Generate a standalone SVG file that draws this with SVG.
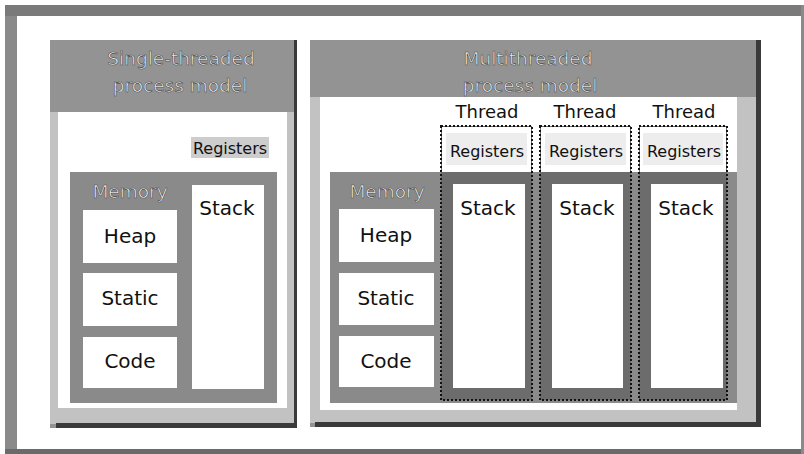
<svg xmlns="http://www.w3.org/2000/svg" width="804" height="454" viewBox="0 0 804 454">
<style>
.lbl{font-family:"DejaVu Sans",sans-serif;fill:#111;text-anchor:middle}
.ttl{font-family:"DejaVu Sans",sans-serif;fill:#f2f2f2;stroke:#4a4a4a;stroke-width:0.6;text-anchor:middle;font-size:18.5px}
.box{fill:#fff}
.mem{fill:#8a8a8a}
.panel{fill:#939393}
.edge{fill:#3a3a3a}
.thr{fill:#6c6c6c;stroke:#111;stroke-width:2;stroke-dasharray:2 2}
</style>
<rect width="804" height="454" fill="#fff"/>
<g id="frame">
<rect x="5" y="5" width="12" height="449" fill="#8a8a8a"/>
<rect x="5" y="5" width="799" height="11" fill="#7a7a7a"/>
<rect x="5" y="449" width="799" height="5" fill="#6a6a6a"/>
<rect x="801" y="5" width="3" height="449" fill="#8a8a8a"/>
</g>
<g id="single">
<rect class="panel" x="50" y="40" width="247" height="388"/>
<rect fill="#c2c2c2" x="50" y="112" width="247" height="312"/>
<rect class="edge" x="56" y="423" width="241" height="5"/>
<rect class="edge" x="294" y="40" width="3" height="388"/>
<rect class="box" x="58" y="112" width="229" height="296"/>
<text class="ttl" x="181" y="65">Single-threaded</text>
<text class="ttl" x="180" y="92">process model</text>
<g id="s-registers">
<rect fill="#cdcdcd" x="191" y="137" width="78" height="21"/>
<text class="lbl" x="230" y="154" font-size="16">Registers</text>
</g>
<g id="s-memory">
<rect class="mem" x="70" y="172" width="207" height="231"/>
<text class="ttl" x="130" y="198">Memory</text>
</g>
<g id="s-heap"><rect class="box" x="83" y="210" width="94" height="53"/><text class="lbl" x="130" y="243" font-size="20">Heap</text></g>
<g id="s-static"><rect class="box" x="83" y="273" width="94" height="53"/><text class="lbl" x="130" y="305" font-size="20">Static</text></g>
<g id="s-code"><rect class="box" x="83" y="337" width="94" height="51"/><text class="lbl" x="130" y="368" font-size="20">Code</text></g>
<g id="s-stack"><rect class="box" x="192" y="185" width="72" height="204"/><text class="lbl" x="227" y="215" font-size="20">Stack</text></g>
</g>
<g id="multi">
<rect class="panel" x="310" y="40" width="451" height="387"/>
<rect fill="#c2c2c2" x="310" y="97" width="451" height="326"/>
<rect class="edge" x="315" y="422" width="446" height="5"/>
<rect class="edge" x="756" y="40" width="5" height="387"/>
<rect class="box" x="320" y="97" width="417" height="313"/>
<text class="ttl" x="528" y="65">Multithreaded</text>
<text class="ttl" x="530" y="92">process model</text>
<g id="m-memory">
<rect class="mem" x="330" y="172" width="407" height="231"/>
<text class="ttl" x="387" y="198">Memory</text>
</g>
<g id="m-heap"><rect class="box" x="339" y="209" width="95" height="53"/><text class="lbl" x="386" y="242" font-size="20">Heap</text></g>
<g id="m-static"><rect class="box" x="339" y="273" width="95" height="52"/><text class="lbl" x="386" y="305" font-size="20">Static</text></g>
<g id="m-code"><rect class="box" x="339" y="336" width="95" height="51"/><text class="lbl" x="386" y="368" font-size="20">Code</text></g>
<g id="thread1">
<text class="lbl" x="487" y="118" font-size="18">Thread</text>
<rect class="thr" x="441" y="126" width="91" height="274"/>
<rect fill="#fff" x="442" y="127" width="89" height="45"/>
<rect fill="#ededed" x="446" y="133" width="81" height="32"/>
<text class="lbl" x="487" y="157" font-size="16">Registers</text>
<rect class="box" x="453" y="184" width="72" height="204"/>
<text class="lbl" x="488" y="215" font-size="20">Stack</text>
</g>
<g id="thread2">
<text class="lbl" x="585" y="118" font-size="18">Thread</text>
<rect class="thr" x="540" y="126" width="91" height="274"/>
<rect fill="#fff" x="541" y="127" width="89" height="45"/>
<rect fill="#ededed" x="545" y="133" width="81" height="32"/>
<text class="lbl" x="586" y="157" font-size="16">Registers</text>
<rect class="box" x="552" y="184" width="71" height="204"/>
<text class="lbl" x="587" y="215" font-size="20">Stack</text>
</g>
<g id="thread3">
<text class="lbl" x="684" y="118" font-size="18">Thread</text>
<rect class="thr" x="639" y="126" width="88" height="274"/>
<rect fill="#fff" x="640" y="127" width="86" height="45"/>
<rect fill="#ededed" x="643" y="133" width="80" height="32"/>
<text class="lbl" x="684" y="157" font-size="16">Registers</text>
<rect class="box" x="651" y="184" width="72" height="204"/>
<text class="lbl" x="686" y="215" font-size="20">Stack</text>
</g>
</g>
<g id="connectors"></g>
</svg>
